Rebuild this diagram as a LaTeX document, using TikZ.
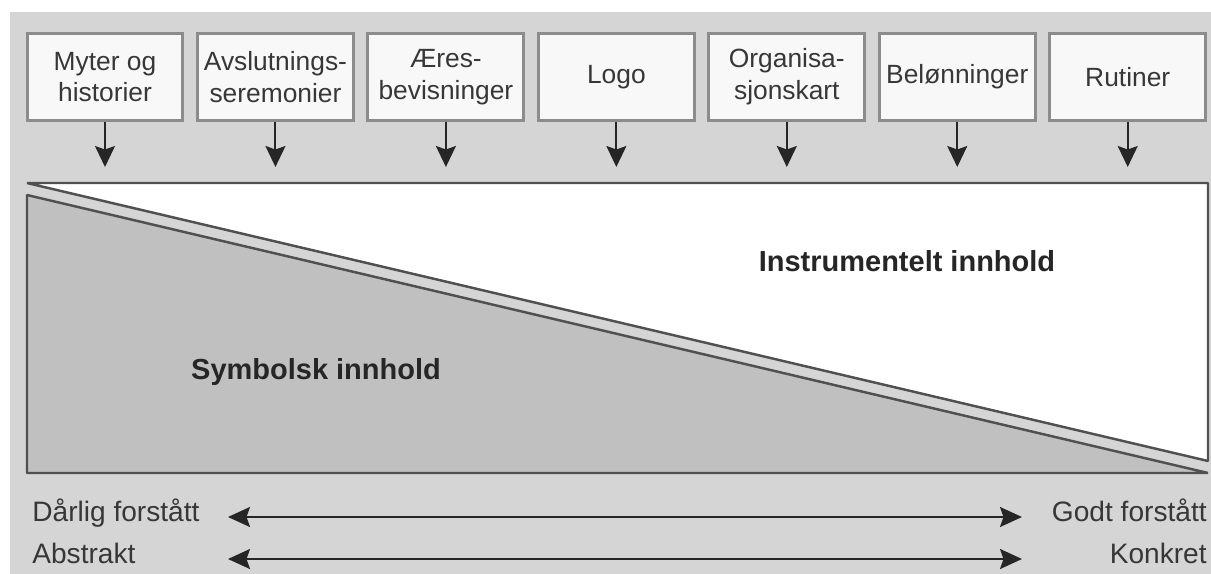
\documentclass[tikz,border=0pt]{standalone}
\usepackage{fontspec}
\setmainfont{Liberation Sans}
\usetikzlibrary{arrows.meta,positioning}
\definecolor{bggray} {RGB}{213,213,213}
\definecolor{symgray}{RGB}{192,192,192}
\definecolor{framec} {RGB}{ 80, 80, 80}
\definecolor{boxedge}{RGB}{140,140,140}
\definecolor{boxfill}{RGB}{248,248,248}
\definecolor{txtc}   {RGB}{ 55, 55, 55}
\tikzset{
  elm/.style  ={rectangle,draw=boxedge,fill=boxfill,line width=1.7pt,
                 minimum width=3.12cm,minimum height=1.74cm,inner sep=1pt,
                 align=center,text=txtc,font=\fontsize{15}{18}\selectfont},
  pil/.style  ={-{Stealth[length=0.42cm,width=0.4cm,inset=0.07cm]},
                 line width=1.1pt,draw=black!85},
  dpil/.style ={{Stealth[length=0.44cm,width=0.4cm,inset=0.07cm]}-{Stealth[length=0.44cm,width=0.4cm,inset=0.07cm]},
                 line width=1.1pt,draw=black!85},
  frm/.style  ={draw=framec,line width=1.4pt,line join=bevel},
  lbl/.style  ={text=txtc,font=\fontsize{16}{19}\selectfont,inner sep=0pt,
                 text height=0.75em,text depth=0.22em},
  big/.style  ={text=black!85,font=\fontsize{16.5}{20}\selectfont\bfseries},
}

\begin{document}
\begin{tikzpicture}[x=0.02cm,y=-0.02cm,node distance=0.23cm]
  \useasboundingbox (0,0) rectangle (1211,574);
  \fill[bggray] (10,12) rectangle (1211,574);
  % the seven elements
  \node[elm] (myter) at (105,77) {Myter og\\historier};
  \node[elm,right=of myter] (avsl)  {Avslutnings-\\seremonier};
  \node[elm,right=of avsl]  (aeres) {Æres-\\bevisninger};
  \node[elm,right=of aeres] (logo)  {Logo};
  \node[elm,right=of logo]  (org)   {Organisa-\\sjonskart};
  \node[elm,right=of org]   (belon) {Belønninger};
  \node[elm,right=of belon] (rutin) {Rutiner};
  \coordinate (tips) at (0,167);
  \draw[pil] (myter) -- (myter |- tips);
  \draw[pil] (avsl)  -- (avsl |- tips);
  \draw[pil] (aeres) -- (aeres |- tips);
  \draw[pil] (logo)  -- (logo |- tips);
  \draw[pil] (org)   -- (org |- tips);
  \draw[pil] (belon) -- (belon |- tips);
  \draw[pil] (rutin) -- (rutin |- tips);
  % content split
  \filldraw[frm,fill=white]   (27,183) -- (1208,183) -- (1208,461) -- cycle;
  \filldraw[frm,fill=symgray] (27,195) -- (1208,473) -- (27,473) -- cycle;
  \node[big] (instr) at (907,261) {Instrumentelt innhold};
  \node[big] (symb)  at (316,372) {Symbolsk innhold};
  % scales
  \node[lbl,anchor=west] (darlig) at (32,517)   {Dårlig forstått};
  \node[lbl,anchor=east] (godt)   at (1207,517) {Godt forstått};
  \node[lbl,anchor=west] (abstr)  at (32,559)   {Abstrakt};
  \node[lbl,anchor=east] (konkr)  at (1207,559) {Konkret};
  \coordinate (lend) at (228,0);
  \coordinate (rend) at (1022,0);
  \draw[dpil] (darlig -| lend) -- (godt -| rend);
  \draw[dpil] (abstr -| lend)  -- (konkr -| rend);
\end{tikzpicture}
\end{document}
